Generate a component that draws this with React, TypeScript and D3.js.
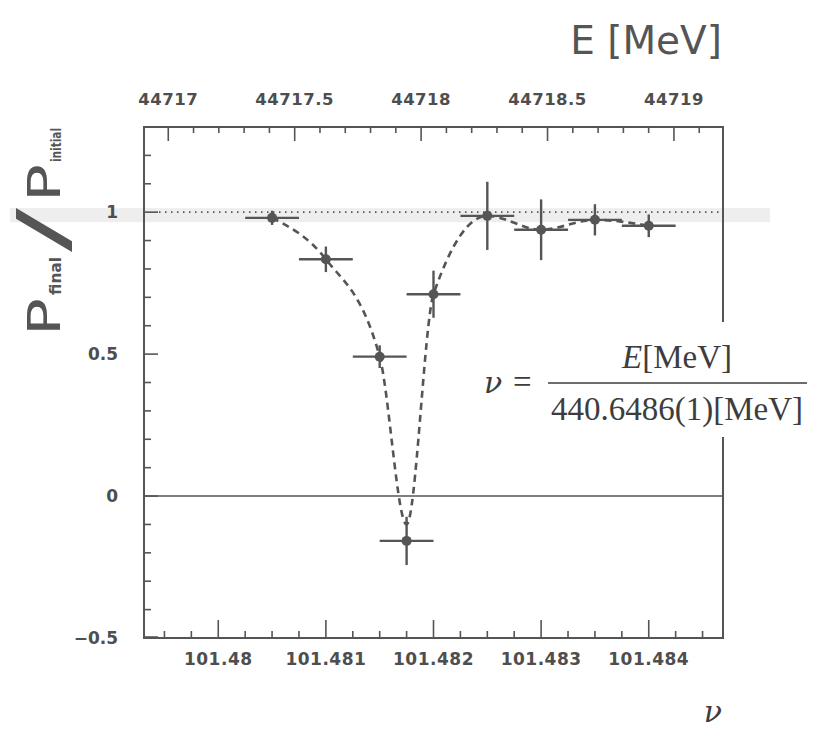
import React from "react";
import * as d3 from "d3";

// ---- data ----
const nuValues = [101.4805, 101.481, 101.4815, 101.48175, 101.482, 101.4825, 101.483, 101.4835, 101.484];
const ratioValues = [0.98, 0.834, 0.491, -0.158, 0.711, 0.987, 0.938, 0.973, 0.952];
const ratioErrors = [0.025, 0.045, 0.04, 0.085, 0.083, 0.12, 0.107, 0.055, 0.04];
const nuHalfWidths = [0.00025, 0.00025, 0.00025, 0.00025, 0.00025, 0.00025, 0.00025, 0.00025, 0.00025];
// dashed guide curve (its minimum stops just above the lowest point)
const fitRatio = [0.98, 0.834, 0.491, -0.1, 0.711, 0.987, 0.938, 0.973, 0.952];

const nuTicks = [101.48, 101.481, 101.482, 101.483, 101.484];
const nuTickLabels = ["101.48", "101.481", "101.482", "101.483", "101.484"];
const eTicks = [44717, 44717.5, 44718, 44718.5, 44719];
const eTickLabels = ["44717", "44717.5", "44718", "44718.5", "44719"];
const yTicks = [-0.5, 0, 0.5, 1];
const yTickLabels = ["\u22120.5", "0", "0.5", "1"];

const W = 819;
const H = 732;
const L = 144, R = 723, T = 127, B = 638;
const INK = "#555";

export default function App() {
  const x = d3.scaleLinear().domain([101.47931, 101.48469]).range([L, R]);
  const xE = d3.scaleLinear().domain([44716.904, 44719.194]).range([L, R]);
  const y = d3.scaleLinear().domain([-0.5, 1.3]).range([B, T]);

  const nuMinor = d3.range(-4, 24).map((i) => 101.48 + i * 0.00025)
    .filter((v) => x(v) > L + 1 && x(v) < R - 1);
  const eMinor = d3.range(-2, 24).map((i) => 44717 + i * 0.1)
    .filter((v) => xE(v) > L + 1 && xE(v) < R - 1);
  const yMinor = d3.range(-5, 14).map((i) => i * 0.1)
    .filter((v) => y(v) > T + 1 && y(v) < B - 1);

  const isMajor = (v: number, majors: number[], eps: number) =>
    majors.some((m) => Math.abs(m - v) < eps);

  const fitLine = d3.line<number>()
    .x((_, i) => x(nuValues[i]))
    .y((d) => y(d))
    .curve(d3.curveMonotoneX);

  const tickFont = { fontFamily: "DejaVu Sans", fontWeight: 700, fontSize: 16, fill: "#4e4e4e" };

  return (
    <svg width={W} height={H} style={{ position: "absolute", left: 0, top: 0, background: "#fff" }}>
      {/* faint highlight band along y = 1 */}
      <rect x={10} y={y(1) - 4} width={760} height={14} fill="#eeeeee" />

      {/* E [MeV] title */}
      <text x={722} y={54} textAnchor="end" fontFamily="DejaVu Sans" fontSize={39} fill={INK}>E [MeV]</text>

      {/* frame */}
      <rect x={L} y={T} width={R - L} height={B - T} fill="none" stroke={INK} strokeWidth={2} />

      {/* bottom ticks */}
      {nuMinor.map((v, i) => {
        const maj = isMajor(v, nuTicks, 1e-7);
        return <line key={"bn" + i} x1={x(v)} x2={x(v)} y1={B} y2={B - (maj ? 18 : 7)} stroke={INK} strokeWidth={1.6} />;
      })}
      {nuTicks.map((v, i) => (
        <text key={"bl" + i} x={x(v)} y={665} textAnchor="middle" {...tickFont} fontSize={17} letterSpacing={0.5}>{nuTickLabels[i]}</text>
      ))}

      {/* top ticks */}
      {eMinor.map((v, i) => {
        const maj = isMajor(v, eTicks, 1e-4);
        return <line key={"tn" + i} x1={xE(v)} x2={xE(v)} y1={T} y2={T + (maj ? 14 : 6)} stroke={INK} strokeWidth={1.6} />;
      })}
      {eTicks.map((v, i) => (
        <text key={"tl" + i} x={xE(v)} y={105} textAnchor="middle" {...tickFont} fontSize={16.5} letterSpacing={0.5}>{eTickLabels[i]}</text>
      ))}

      {/* left ticks */}
      {yMinor.map((v, i) => {
        const maj = isMajor(v, yTicks, 1e-6);
        return <line key={"ln" + i} x1={L} x2={L + (maj ? 14 : 7)} y1={y(v)} y2={y(v)} stroke={INK} strokeWidth={1.6} />;
      })}
      <line x1={L} x2={L + 14} y1={y(-0.5) - 1} y2={y(-0.5) - 1} stroke={INK} strokeWidth={1.6} />
      {yTicks.map((v, i) => (
        <text key={"yl" + i} x={118} y={y(v)} dy="0.36em" textAnchor="end" {...tickFont} fontSize={17}>{yTickLabels[i]}</text>
      ))}

      {/* reference lines */}
      <line x1={L} x2={R} y1={y(0)} y2={y(0)} stroke={INK} strokeWidth={1.6} />
      <line x1={L + 15} x2={R} y1={y(1)} y2={y(1)} stroke={INK} strokeWidth={1.6} strokeDasharray="1.5 4.5" />

      {/* dashed curve */}
      <path d={fitLine(fitRatio) || ""} fill="none" stroke={INK} strokeWidth={2.6} strokeDasharray="7 5" />

      {/* data points with error bars */}
      {nuValues.map((v, i) => (
        <g key={"p" + i}>
          <line x1={x(v - nuHalfWidths[i])} x2={x(v + nuHalfWidths[i])} y1={y(ratioValues[i])} y2={y(ratioValues[i])} stroke={INK} strokeWidth={2.4} />
          <line x1={x(v)} x2={x(v)} y1={y(ratioValues[i] - ratioErrors[i])} y2={y(ratioValues[i] + ratioErrors[i])} stroke={INK} strokeWidth={2.4} />
          <circle cx={x(v)} cy={y(ratioValues[i])} r={5} fill={INK} />
        </g>
      ))}

      {/* y axis label */}
      <g transform="translate(60,336) rotate(-90)" fill={INK} fontFamily="DejaVu Sans">
        <text x={0} y={0} fontSize={44} textLength={38} lengthAdjust="spacingAndGlyphs">P</text>
        <text x={41} y={1} fontSize={16} fontWeight={700} textLength={38} lengthAdjust="spacingAndGlyphs">final</text>
        <text x={84} y={6} fontSize={68} textLength={44} lengthAdjust="spacingAndGlyphs">/</text>
        <text x={134} y={0} fontSize={44} textLength={38} lengthAdjust="spacingAndGlyphs">P</text>
        <text x={174} y={1} fontSize={14} fontWeight={700} textLength={34} lengthAdjust="spacingAndGlyphs">initial</text>
      </g>

      {/* formula box */}
      <rect x={468} y={322} width={351} height={115} fill="#fff" />
      <g fill="#3d3d3d" fontFamily="Liberation Serif" fontSize={33}>
        <text x={484} y={393} fontStyle="italic" fontFamily="DejaVu Serif" fontSize={30}>{"\u03bd"}</text>
        <text x={513} y={393}>=</text>
        <text x={677} y={368} textAnchor="middle"><tspan fontStyle="italic">E</tspan>[MeV]</text>
        <line x1={548} x2={807} y1={383} y2={383} stroke="#3d3d3d" strokeWidth={1.6} />
        <text x={677} y={420} textAnchor="middle">440.6486(1)[MeV]</text>
      </g>

      {/* nu axis label */}
      <text x={722} y={722} textAnchor="end" fontFamily="DejaVu Serif" fontStyle="italic" fontSize={30} fill="#3d3d3d">{"\u03bd"}</text>
    </svg>
  );
}
